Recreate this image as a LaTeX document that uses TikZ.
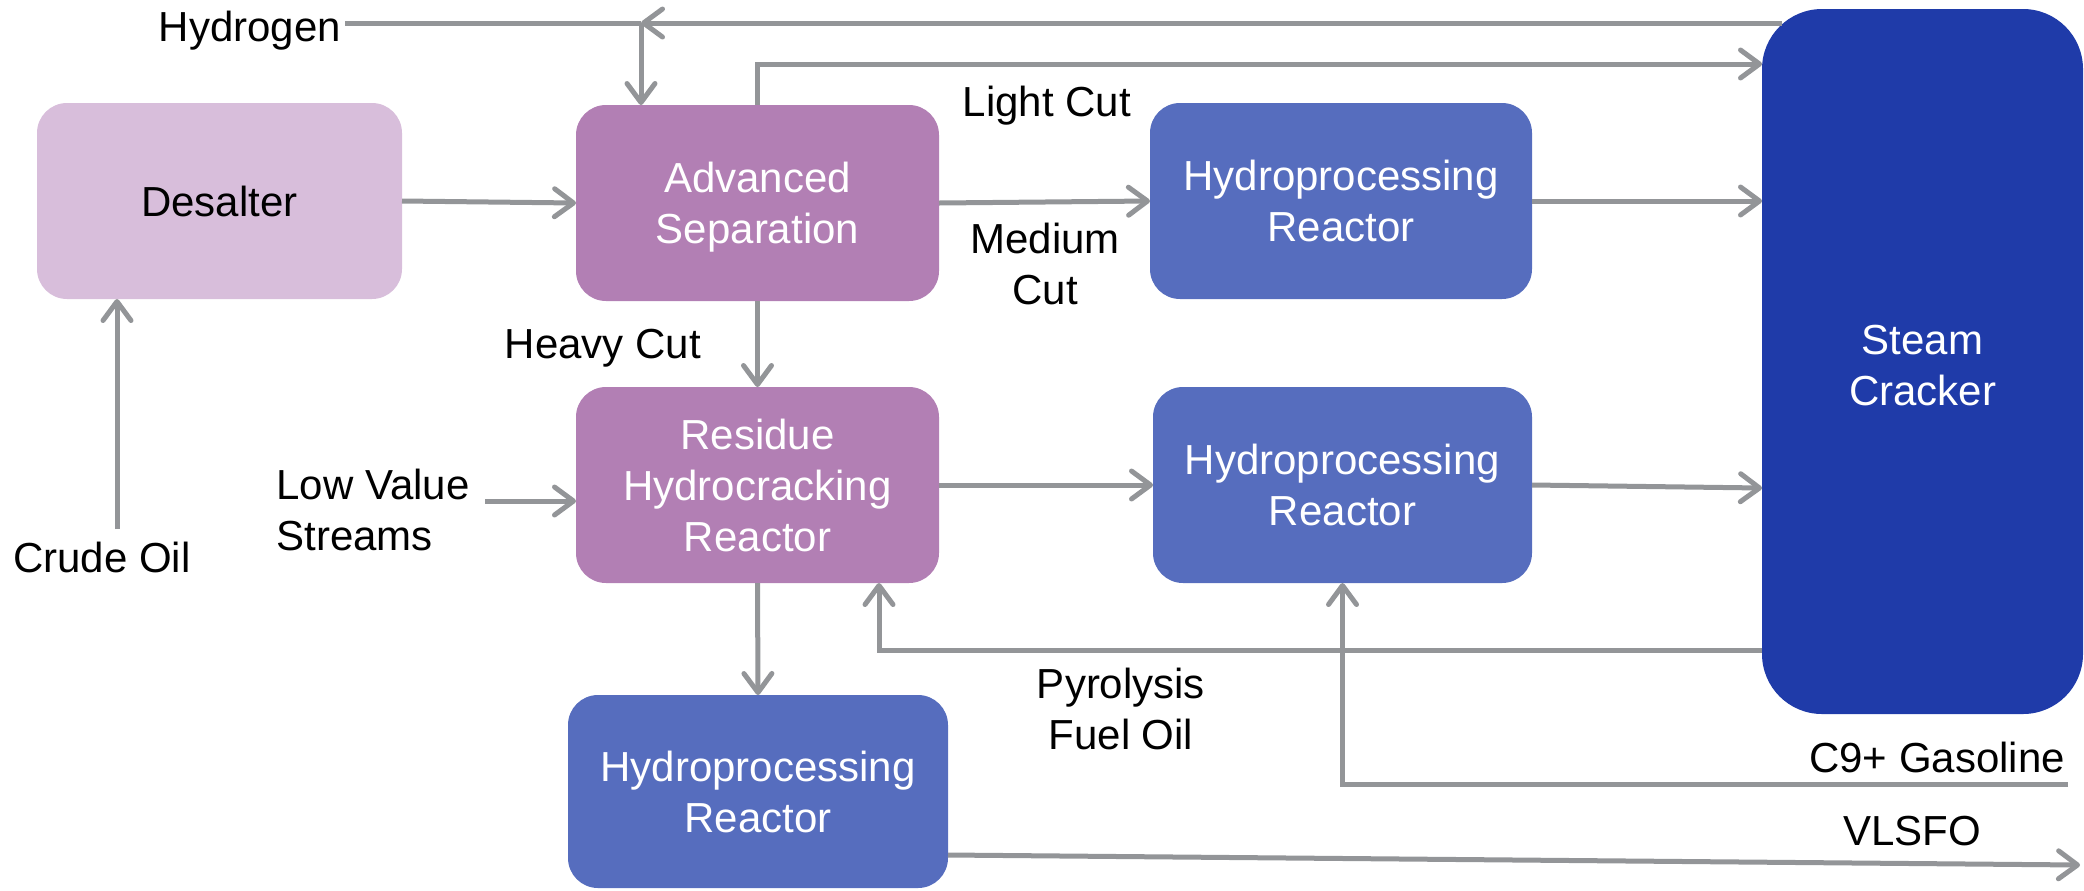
\documentclass[tikz,border=0pt]{standalone}
\usepackage{fontspec}
\setmainfont{Liberation Sans}
\usetikzlibrary{arrows.meta}
\definecolor{cDesalt}{HTML}{D8BEDB}
\definecolor{cPurple}{HTML}{B27FB4}
\definecolor{cHR}{HTML}{566DBE}
\definecolor{cSC}{HTML}{1F3BA9}
\definecolor{cLine}{HTML}{939598}
\begin{document}
\begin{tikzpicture}[x=0.5pt,y=-0.5pt,
  box/.style={rounded corners=15pt, inner sep=0pt, outer sep=0pt, align=center,
    font=\fontsize{21}{25.5}\selectfont, text=white},
  lbl/.style={inner sep=2pt, align=center, font=\fontsize{21}{25.5}\selectfont, text=black},
  flow/.style={draw=cLine, line width=2.5pt},
  arr/.style={flow, -{Straight Barb[length=9.5pt,width=14pt,line cap=round,line join=round]}}
]
\useasboundingbox (0,0) rectangle (2084,890);

% boxes
\node[box, fill=cDesalt, text=black, minimum width=182.5pt, minimum height=98pt] (desalter) at (219.5,201) {Desalter};
\node[box, fill=cPurple, minimum width=181.5pt, minimum height=98pt] (advsep) at (757.5,203) {Advanced\\\raisebox{0pt}[\height][0pt]{Separation}};
\node[box, fill=cPurple, minimum width=181.5pt, minimum height=98pt] (residue) at (757.5,485) {Residue\\Hydrocracking\\Reactor};
\node[box, fill=cHR, minimum width=191pt, minimum height=98pt] (hr1) at (1341,201) {Hydroprocessing\\Reactor};
\node[box, fill=cHR, minimum width=189.5pt, minimum height=98pt] (hr2) at (1342.5,485) {Hydroprocessing\\Reactor};
\node[box, fill=cHR, minimum width=190pt, minimum height=96.5pt] (hr3) at (758,791.5) {Hydroprocessing\\Reactor};
\node[box, fill=cSC, rounded corners=30pt, minimum width=160.5pt, minimum height=352.5pt] (sc) at (1922.5,361.5) {\raisebox{0pt}[\dimexpr\height+4pt\relax]{Steam}\\Cracker};

% labels
\node[lbl, anchor=base] (hydrogen) at (250,41) {Hydrogen};
\node[lbl, anchor=base] (lightcut) at (1047,116) {Light Cut};
\node[lbl] (mediumcut) at (1045,264) {Medium\\Cut};
\node[lbl, anchor=base] (heavycut) at (603,358) {Heavy Cut};
\node[lbl, anchor=west, align=left, inner sep=0pt] (lowvalue) at (276,510) {Low Value\\Streams};
\node[lbl, anchor=base] (crude) at (102,572) {Crude Oil};
\node[lbl] (pyro) at (1121,709) {Pyrolysis\\Fuel Oil};
\node[lbl, anchor=base] (c9) at (1937,772) {C9+ Gasoline};
\node[lbl, anchor=base] (vlsfo) at (1912,845) {VLSFO};

% coordinates
\coordinate (hj) at (641,23);
\coordinate (hsrc) at (1782,23);
\coordinate (lcy) at (0,64);
\coordinate (crudeend) at (117,529);
\coordinate (lvsa) at (485,501);
\coordinate (hr2out) at (0,488);
\coordinate (pyx) at (879,650);
\coordinate (c9end) at (2068,784);
\coordinate (vstart) at (0,855);
\coordinate (vend) at (2080,865);

% connectors
\draw[arr] (crudeend) -- (crudeend |- desalter.south);
\draw[arr] (desalter.east) -- (advsep.west);
\draw[flow] (hydrogen.east |- hj) -- (hj);
\draw[arr] (hsrc) -- (hj);
\draw[arr] (hj) -- (hj |- advsep.north);
\draw[arr] (advsep.north) |- (sc.west |- lcy);
\draw[arr] (advsep.east) -- (hr1.west);
\draw[arr] (hr1.east) -- (sc.west |- hr1.east);
\draw[arr] (advsep.south) -- (residue.north);
\draw[arr] (lvsa) -- (lvsa -| residue.west);
\draw[arr] (residue.east) -- (hr2.west);
\draw[arr] (hr2.east) -- (sc.west |- hr2out);
\draw[arr] (residue.south) -- (hr3.north);
\draw[arr] (sc.west |- pyx) -- (pyx) -- (pyx |- residue.south);
\draw[arr] (c9end) -| (hr2.south);
\draw[arr] (hr3.east |- vstart) -- (vend);
\end{tikzpicture}
\end{document}
